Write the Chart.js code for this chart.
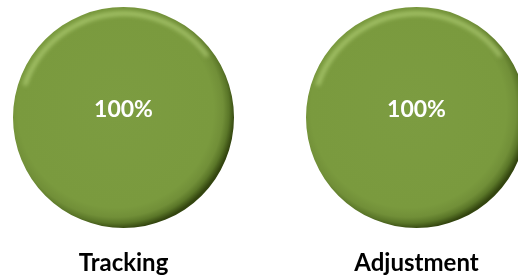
<!DOCTYPE html>
<html>
<head>
<meta charset="utf-8">
<script src="https://cdn.jsdelivr.net/npm/chart.js@4"></script>
<style>
  html, body { margin: 0; padding: 0; background: #fff; overflow: hidden; }
  body { width: 518px; height: 278px; position: relative; }
  .box { position: absolute; top: 7px; width: 221px; height: 271px; }
  #box1 { left: 13px; }
  #box2 { left: 306px; }
</style>
</head>
<body>
<div class="box" id="box1"><canvas id="chart1"></canvas></div>
<div class="box" id="box2"><canvas id="chart2"></canvas></div>
<script>
const categories = ['Tracking', 'Adjustment'];
const completeValues = [100, 100];
const percentLabels = ['100%', '100%'];

const FONT = "Lato, 'Open Sans', sans-serif";

// radial shading so the disc looks like a raised button
function discFill(context) {
    const area = context.chart.chartArea;
    if (!area) return '#7a9a3e';
    const x = (area.left + area.right) / 2;
    const y = (area.top + area.bottom) / 2;
    const r = Math.min(area.right - area.left, area.bottom - area.top) / 2;
    const cx = x - r * 0.07, cy = y - r * 0.07;
    const g = context.chart.ctx.createRadialGradient(cx, cy, 0, cx, cy, r * 1.08);
    g.addColorStop(0, '#7c9c41');
    g.addColorStop(0.82, '#7a9a3e');
    g.addColorStop(0.9, '#718f38');
    g.addColorStop(0.95, '#5a7628');
    g.addColorStop(1, '#33450f');
    return g;
}

const centerText = {
    id: 'centerText',
    afterDatasetsDraw(chart, args, opts) {
        const arc = chart.getDatasetMeta(0).data[0];
        if (!arc) return;
        const ctx = chart.ctx;
        const r = arc.outerRadius;
        ctx.save();
        // top highlight
        ctx.beginPath();
        ctx.arc(arc.x, arc.y, r * 0.94, Math.PI * 1.1, Math.PI * 1.8);
        ctx.strokeStyle = 'rgba(200, 228, 140, 0.6)';
        ctx.lineWidth = 4;
        ctx.filter = 'blur(2px)';
        ctx.stroke();
        ctx.filter = 'none';
        // label sits a bit above the centre, like the original
        ctx.fillStyle = '#ffffff';
        ctx.font = 'bold 23px ' + FONT;
        ctx.textAlign = 'center';
        ctx.textBaseline = 'middle';
        ctx.fillText(opts.text, arc.x, arc.y - r * 0.075);
        ctx.restore();
    }
};

function makeChart(id, i) {
    return new Chart(document.getElementById(id), {
        type: 'pie',
        data: {
            labels: [categories[i]],
            datasets: [{
                data: [completeValues[i]],
                backgroundColor: discFill,
                borderWidth: 0,
                hoverOffset: 0
            }]
        },
        options: {
            responsive: true,
            maintainAspectRatio: false,
            animation: false,
            layout: { padding: 0 },
            plugins: {
                legend: { display: false },
                tooltip: { enabled: false },
                title: {
                    display: true,
                    position: 'bottom',
                    text: categories[i],
                    color: '#000000',
                    font: { family: FONT, size: 24, weight: 'bold', lineHeight: 1 },
                    padding: { top: 23, bottom: 3 }
                },
                centerText: { text: percentLabels[i] }
            }
        },
        plugins: [centerText]
    });
}

makeChart('chart1', 0);
makeChart('chart2', 1);
</script>
</body>
</html>
